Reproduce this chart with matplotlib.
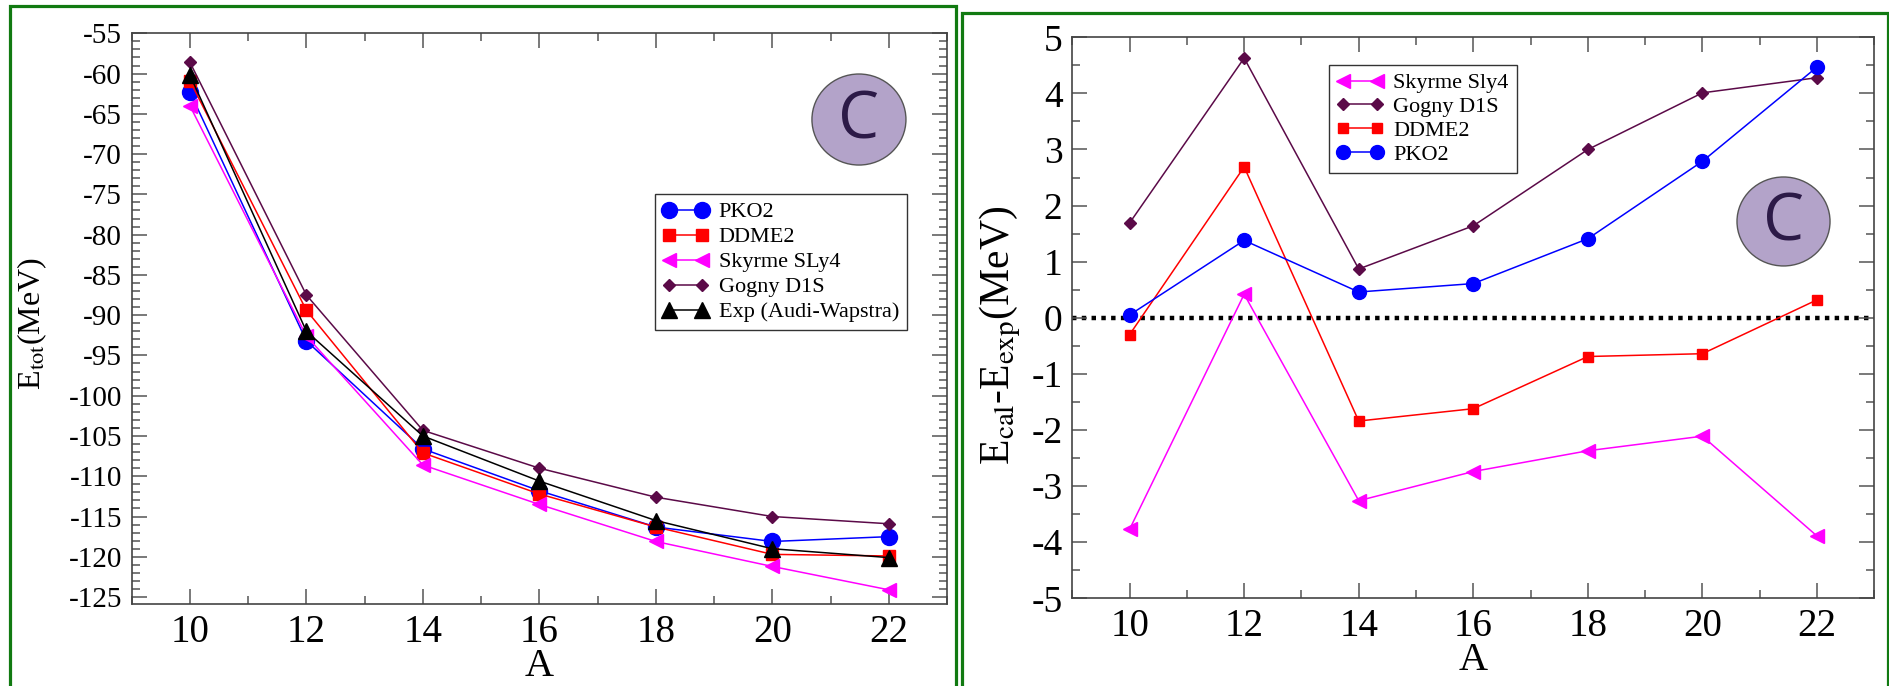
import os
import matplotlib
matplotlib.use("Agg")
import matplotlib.pyplot as plt
from matplotlib.patches import Ellipse, Rectangle
from matplotlib.ticker import MultipleLocator
from matplotlib.font_manager import FontProperties, findfont

_p = '/usr/share/fonts/truetype/liberation/LiberationSerif-Regular.ttf'
if not os.path.exists(_p):
    _p = findfont(FontProperties(family='Liberation Serif'))

def fp(size):
    return FontProperties(fname=_p, size=size)

plt.rcParams['mathtext.fontset'] = 'stix'
plt.rcParams['axes.unicode_minus'] = False

# ---------------- data ----------------
A = [10, 12, 14, 16, 18, 20, 22]

# left panel: total energies (MeV)
pko2_tot = [-62.3, -93.2, -106.6, -111.8, -116.3, -118.1, -117.5]
ddme2_tot = [-60.9, -89.4, -107.1, -112.2, -116.3, -119.7, -119.9]
sly4_tot = [-64.0, -92.6, -108.6, -113.5, -118.1, -121.2, -124.1]
d1s_tot = [-58.6, -87.5, -104.3, -109.0, -112.6, -115.0, -115.9]
exp_tot = [-60.2, -92.0, -105.0, -110.6, -115.5, -119.0, -120.1]

# right panel: E_cal - E_exp (MeV)
sly4_diff = [-3.77, 0.42, -3.26, -2.74, -2.37, -2.11, -3.89]
d1s_diff = [1.69, 4.63, 0.87, 1.64, 3.00, 4.01, 4.28]
ddme2_diff = [-0.30, 2.69, -1.84, -1.62, -0.69, -0.64, 0.32]
pko2_diff = [0.05, 1.38, 0.46, 0.61, 1.41, 2.79, 4.47]

left_labels = ['PKO2', 'DDME2', 'Skyrme SLy4', 'Gogny D1S', 'Exp (Audi-Wapstra)']
right_labels = ['Skyrme Sly4', 'Gogny D1S', 'DDME2', 'PKO2']

left_yticks = list(range(-125, -54, 5))
right_yticks = list(range(-5, 6))

BLUE = '#0000ff'
RED = '#ff0000'
MAG = '#ff00ff'
PURP = '#5b0a48'
BLK = '#000000'
GREEN = '#117a11'
SPINE = '#444444'

W, H = 1890, 686
fig = plt.figure(figsize=(W / 100, H / 100), dpi=100)
fig.patch.set_facecolor('white')

# green panel frames (figure pixel coords)
def frame(x0, y0, x1, y1):
    r = Rectangle((x0 / W, 1 - y1 / H), (x1 - x0) / W, (y1 - y0) / H,
                  transform=fig.transFigure, fill=False, edgecolor=GREEN,
                  linewidth=2.3, zorder=0)
    fig.patches.append(r)

frame(10, 6, 956.5, 700)
frame(962, 13, 1888, 700)

def ax_rect(x0, y0, x1, y1):
    return [x0 / W, 1 - y1 / H, (x1 - x0) / W, (y1 - y0) / H]

def style_axes(ax, yticks, ysize, yminor):
    for s in ax.spines.values():
        s.set_color(SPINE)
        s.set_linewidth(1.2)
    ax.set_xlim(9, 23)
    ax.set_xticks(A, [str(a) for a in A], fontproperties=fp(28))
    ax.set_yticks(yticks, [str(v) for v in yticks], fontproperties=fp(ysize))
    ax.xaxis.set_minor_locator(MultipleLocator(1))
    ax.yaxis.set_minor_locator(MultipleLocator(yminor))
    ax.tick_params(which='both', direction='in', top=True, right=True,
                   color='#555555', width=1.1)
    ax.tick_params(which='major', length=11, pad=7)
    ax.tick_params(which='minor', length=5.5)

def badge(ax, cx, cy, w, h):
    e = Ellipse((cx, cy), w, h, transform=ax.transAxes, facecolor='#b3a3c9',
                edgecolor='#555555', linewidth=1.0, zorder=5)
    ax.add_patch(e)
    ax.text(cx, cy - 0.003, 'C', transform=ax.transAxes, ha='center', va='center',
            family='Open Sans', fontsize=47, color='#2c1a47', zorder=6)

lw = 1.1

# ---------------- left panel ----------------
ax1 = fig.add_axes(ax_rect(131.7, 33.3, 947, 604.3))
ax1.plot(A, pko2_tot, '-o', color=BLUE, ms=11.5, lw=lw, label=left_labels[0])
ax1.plot(A, ddme2_tot, '-s', color=RED, ms=8, lw=lw, label=left_labels[1])
ax1.plot(A, sly4_tot, '-<', color=MAG, ms=10.5, lw=lw, label=left_labels[2])
ax1.plot(A, d1s_tot, '-D', color=PURP, ms=6.2, lw=lw, label=left_labels[3])
ax1.plot(A, exp_tot, '-^', color=BLK, ms=11, lw=lw, label=left_labels[4])
style_axes(ax1, left_yticks, 21, 1)
ax1.set_ylim(-125.9, -55)

ax1.set_xlabel('A', fontproperties=fp(29), labelpad=-2)
ax1.set_ylabel(r'E$_{\mathrm{tot}}$(MeV)', fontproperties=fp(23))
ax1.yaxis.set_label_coords(-0.102, 0.491)

leg1 = ax1.legend(loc='upper left', bbox_to_anchor=(0.6419, 0.7186), borderaxespad=0,
                  numpoints=2, handlelength=2.06, handletextpad=0.45,
                  borderpad=0.35, labelspacing=0.2, fancybox=False, framealpha=1,
                  edgecolor='#333333', prop=fp(16))
leg1.get_frame().set_linewidth(1.0)

badge(ax1, 0.892, 0.849, 0.1153, 0.1594)

# ---------------- right panel ----------------
ax2 = fig.add_axes(ax_rect(1072.3, 37.3, 1874.3, 598.3))
ax2.axhline(0, color='k', ls=(0, (1, 1.2)), lw=3.2, zorder=1)
ax2.plot(A, sly4_diff, '-<', color=MAG, ms=10, lw=lw, label=right_labels[0])
ax2.plot(A, d1s_diff, '-D', color=PURP, ms=6.5, lw=lw, label=right_labels[1])
ax2.plot(A, ddme2_diff, '-s', color=RED, ms=7.5, lw=lw, label=right_labels[2])
ax2.plot(A, pko2_diff, '-o', color=BLUE, ms=10, lw=lw, label=right_labels[3])
style_axes(ax2, right_yticks, 27, 0.5)
ax2.set_ylim(-5, 5)

ax2.set_xlabel('A', fontproperties=fp(29), labelpad=-2)
ax2.set_ylabel(r'E$_{\mathrm{cal}}$-E$_{\mathrm{exp}}$(MeV)', fontproperties=fp(30))
ax2.yaxis.set_label_coords(-0.062, 0.468)

leg2 = ax2.legend(loc='upper left', bbox_to_anchor=(0.3201, 0.9506), borderaxespad=0,
                  numpoints=2, handlelength=2.1, handletextpad=0.45,
                  borderpad=0.35, labelspacing=0.15, fancybox=False, framealpha=1,
                  edgecolor='#333333', prop=fp(16))
leg2.get_frame().set_linewidth(1.0)

badge(ax2, 0.8868, 0.6717, 0.116, 0.1586)

fig.savefig('out.png', dpi=100)
